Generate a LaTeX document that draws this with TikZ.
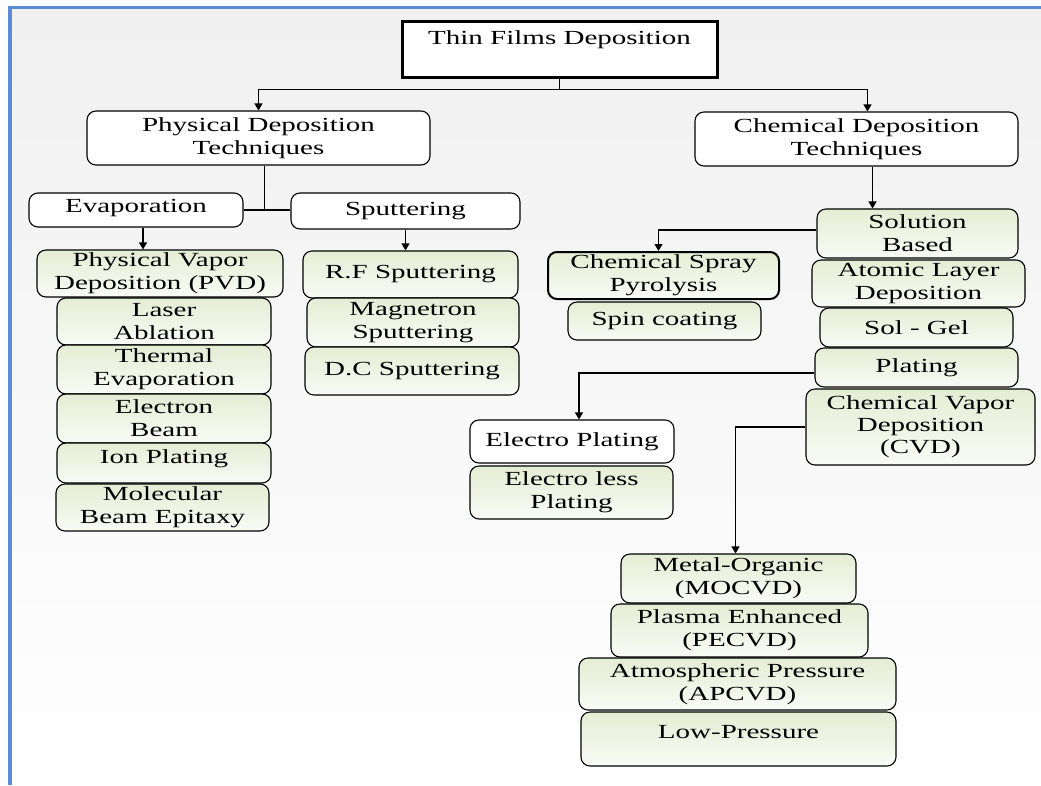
\documentclass[tikz,border=0pt]{standalone}
\usepackage{fontspec}
\setmainfont{Liberation Serif}[FakeStretch=1.45]
\usetikzlibrary{arrows.meta}
\definecolor{frameblue}{RGB}{91,141,214}
\definecolor{bggray}{RGB}{240,240,240}
\definecolor{boxgreen}{RGB}{228,237,212}
\definecolor{boxlight}{RGB}{249,251,245}

\begin{document}
\begin{tikzpicture}[x=1pt, y=-1pt, line width=1.1pt, font=\fontsize{20}{23}\selectfont,
	every node/.style={align=center, inner xsep=2pt, inner ysep=0pt},
	sz/.style 2 args={minimum width=#1pt, minimum height=#2pt},
	wbox/.style={draw, rounded corners=9pt, fill=white},
	gbox/.style={draw, rounded corners=9pt, top color=boxgreen, bottom color=boxlight},
	lift/.style={text depth=#1pt},
	arr/.style={-{Triangle[length=7pt,width=8pt]}}]
	\useasboundingbox (0,0) rectangle (1041,785);
	\fill[top color=bggray, bottom color=white] (10,8) rectangle (1041,785);
	\draw[frameblue, line width=4.5pt] (10,785) -- (10,6);
	\draw[frameblue, line width=3pt] (8,7.5) -- (1041,7.5);
	% top of the tree
	\node[draw, line width=3pt, fill=white, sz={315}{56}] (title) at (559.5,49) {Thin Films Deposition\\~};
	\node[wbox, sz={343}{54}] (phys) at (258.5,138) {Physical Deposition\\Techniques};
	\node[wbox, sz={323}{54}] (chem) at (856.5,139) {Chemical Deposition\\Techniques};
	% physical side
	\node[wbox, sz={214}{34}, lift=9] (evap) at (136,210) {Evaporation};
	\node[wbox, sz={229}{36}] (sputt) at (405.5,211) {Sputtering};
	\node[gbox, sz={246}{47}] (pvd) at (160,273.5) {Physical Vapor\\Deposition (PVD)};
	\node[gbox, sz={214}{47}] (laser) at (164,321.5) {Laser\\Ablation};
	\node[gbox, sz={214}{49}] (therm) at (164,369.5) {Thermal\\Evaporation};
	\node[gbox, sz={214}{49}] (ebeam) at (164,418.5) {Electron\\Beam};
	\node[gbox, sz={214}{40}, lift=12] (ion) at (164,463) {Ion Plating};
	\node[gbox, sz={213}{47}] (mbe) at (162.5,507.5) {Molecular\\Beam Epitaxy};
	\node[gbox, sz={215}{47}] (rf) at (410.5,274.5) {R.F Sputtering};
	\node[gbox, sz={212}{49}] (mag) at (413,322.5) {Magnetron\\Sputtering};
	\node[gbox, sz={214}{48}] (dc) at (412,371) {D.C Sputtering};
	% chemical side
	\node[gbox, sz={201}{49}] (sol) at (917.5,233.5) {Solution\\Based};
	\node[gbox, line width=2pt, sz={231}{47}] (spray) at (663.5,275.5) {Chemical Spray\\Pyrolysis};
	\node[gbox, sz={193}{38}] (spin) at (664.5,321) {Spin coating};
	\node[gbox, sz={213}{47}] (ald) at (918.5,283.5) {Atomic Layer\\Deposition};
	\node[gbox, sz={193}{39}] (solgel) at (916.5,327.5) {Sol - Gel};
	\node[gbox, sz={203}{39}] (plat) at (916.5,367.5) {Plating};
	\node[gbox, sz={229}{76}, font=\fontsize{20}{22}\selectfont] (cvd) at (920.5,427) {Chemical Vapor\\Deposition\\(CVD)};
	\node[wbox, sz={204}{43}] (elp) at (572,441.5) {Electro Plating};
	\node[gbox, sz={203}{53}] (eless) at (571.5,492.5) {Electro less\\Plating};
	\node[gbox, sz={235}{49}] (mo) at (738.5,578.5) {Metal-Organic\\(MOCVD)};
	\node[gbox, sz={257}{53}] (pe) at (739.5,630.5) {Plasma Enhanced\\(PECVD)};
	\node[gbox, sz={317}{52}] (ap) at (737.5,684) {Atmospheric Pressure\\(APCVD)};
	\node[gbox, sz={315}{54}, lift=14] (lp) at (738.5,739) {Low-Pressure};
	% connectors
	\draw (title.south) -- ++(0,11) coordinate (tjoin);
	\draw[arr] (tjoin) -| (phys.north);
	\draw[arr] (tjoin) -| ([xshift=11pt]chem.north);
	\draw ([xshift=6pt]phys.south) |- (evap.east);
	\draw (evap.east) -- (evap.east -| sputt.west);
	\draw[arr] ([xshift=7pt]evap.south) -- ([xshift=7pt]evap.south |- pvd.north);
	\draw[arr] (sputt.south) -- (sputt.south |- rf.north);
	\draw[arr] ([xshift=16pt]chem.south) -- ([xshift=16pt]chem.south |- sol.north);
	\draw[arr] ([yshift=3.5pt]sol.west) -| ([xshift=-5pt]spray.north);
	\draw[arr] ([yshift=-5.5pt]plat.west) -| ([xshift=7pt]elp.north);
	\draw[arr] (cvd.west) -| ([xshift=-3pt]mo.north);
\end{tikzpicture}
\end{document}
